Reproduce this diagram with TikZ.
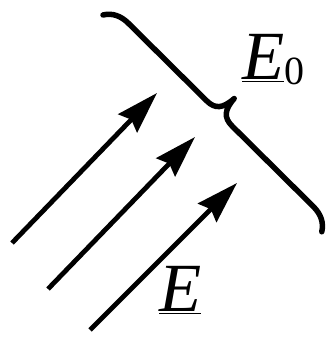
\documentclass[tikz,border=0pt]{standalone}
\usepackage{fontspec}
\setmainfont{Liberation Serif}
\usetikzlibrary{arrows.meta}
\begin{document}
\begin{tikzpicture}[x=1pt,y=1pt,
  fieldarrow/.style={line width=4.8pt, -{Stealth[length=42pt,width=26pt,inset=5pt]}},
  bracestroke/.style={line width=5.5pt, line cap=round, line join=round},
  lbl/.style={inner sep=0pt, anchor=base west, font=\fontsize{69}{69}\selectfont}]
\useasboundingbox (0,0) rectangle (333,337);
\coordinate (t1) at (12,94);  \coordinate (h1) at (157,244);
\coordinate (t2) at (48,48);  \coordinate (h2) at (195,200);
\coordinate (t3) at (90,7);   \coordinate (h3) at (237,154);
\draw[fieldarrow] (t1) -- (h1);
\draw[fieldarrow] (t2) -- (h2);
\draw[fieldarrow] (t3) -- (h3);
\begin{scope}[shift={(103,322)}, rotate=-44.74]
\draw[bracestroke] (0,0) .. controls (5,8) and (13,12) .. (24,12) -- (134,12)
  .. controls (146,12) and (151,18) .. (152,33)
  .. controls (153,18) and (158,12) .. (170,12) -- (284,12)
  .. controls (295,12) and (303,8) .. (308,0);
\end{scope}
\node[lbl] (E0) at (242,257) {\underline{\textit{E}}\raisebox{-5pt}{\fontsize{40}{40}\selectfont 0}};
\node[lbl] (E) at (159,25) {\underline{\textit{E}}};
\end{tikzpicture}
\end{document}
